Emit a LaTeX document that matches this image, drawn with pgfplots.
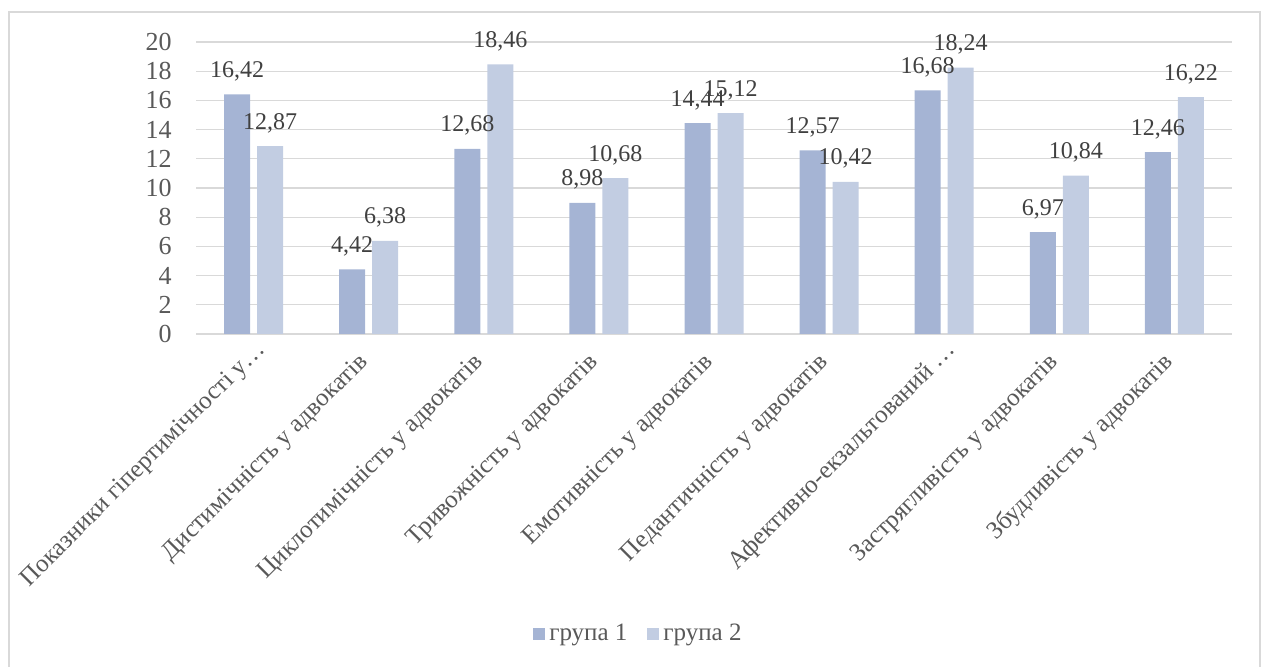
\documentclass[border=0pt]{standalone}
\usepackage{fontspec}
\setmainfont{Liberation Serif}
\usepackage{pgfplots}
\pgfplotsset{compat=1.18}
\definecolor{gA}{RGB}{165,180,212}
\definecolor{gB}{RGB}{194,205,226}
\definecolor{gridc}{RGB}{217,217,217}
\definecolor{txt}{RGB}{89,89,89}
\definecolor{lbl}{RGB}{64,64,64}
\begin{document}
\begin{tikzpicture}
\useasboundingbox (0,0) rectangle (631pt,333.5pt);
\draw[gridc, line width=0.6pt] (4.5pt,0) -- (4.5pt,327.5pt) -- (630pt,327.5pt) -- (630pt,0);
\begin{axis}[
  at={(98pt,166.5pt)}, anchor=south west,
  width=518pt, height=146pt, scale only axis,
  ybar=3.5pt, bar width=13pt,
  xmin=-0.5, xmax=8.5, ymin=0, ymax=20,
  enlargelimits=false, clip=false,
  axis line style={draw=none},
  tick style={draw=none},
  major tick length=0pt,
  ymajorgrids,
  major grid style={gridc, line width=0.6pt},
  xtick={0,1,2,3,4,5,6,7,8},
  xticklabels={Показники гіпертимічності у…\kern-9pt\relax,
    Дистимічність у адвокатів,
    Циклотимічність у адвокатів,
    Тривожність у адвокатів,
    Емотивність у адвокатів,
    Педантичність у адвокатів,
    Афективно-екзальтований …\kern-9pt\relax,
    Застрягливість у адвокатів,
    Збудливість у адвокатів},
  xticklabel style={rotate=45, anchor=base east, inner sep=0pt, font=\fontsize{12.5}{14}\selectfont, text=txt},
  xticklabel shift=14.5pt,
  ytick={0,2,4,6,8,10,12,14,16,18,20},
  yticklabels={0,2,4,6,8,10,12,14,16,18,20},
  yticklabel style={anchor=east, inner sep=0pt, font=\fontsize{13}{14}\selectfont, text=txt},
  yticklabel shift=12pt,
  nodes near coords={\pgfmathprintnumber[fixed,fixed zerofill,precision=2,use comma,assume math mode=true]{\pgfplotspointmeta}},
  every node near coord/.append style={font=\fontsize{12}{13}\selectfont, text=lbl, anchor=base, inner sep=0pt, yshift=8.5pt},
  legend style={at={(0.428,-1.027)}, anchor=center, legend columns=2, draw=none, fill=none,
    font=\fontsize{12.5}{14}\selectfont, text=txt,
    /tikz/every even column/.append style={column sep=8pt}},
  legend image code/.code={\fill[#1] (0pt,-3pt) rectangle (6pt,3pt);},
]
\addplot[fill=gA, draw=none] coordinates {(0,16.42) (1,4.42) (2,12.68) (3,8.98) (4,14.44) (5,12.57) (6,16.68) (7,6.97) (8,12.46)};
\addplot[fill=gB, draw=none] coordinates {(0,12.87) (1,6.38) (2,18.46) (3,10.68) (4,15.12) (5,10.42) (6,18.24) (7,10.84) (8,16.22)};
\legend{група 1, група 2}
\end{axis}
\end{tikzpicture}
\end{document}
